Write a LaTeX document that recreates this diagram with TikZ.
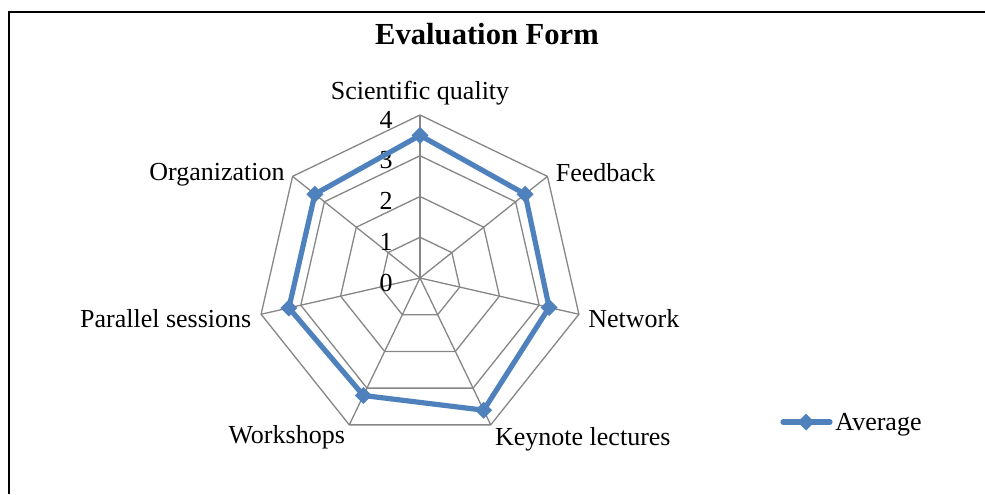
\documentclass[tikz,border=0pt]{standalone}
\usepackage{fontspec}
\setmainfont{Liberation Serif}
\usetikzlibrary{positioning}
\definecolor{avgblue}{HTML}{4F81BD}
\definecolor{webgray}{HTML}{868686}

\begin{document}
\begin{tikzpicture}[x=0.5pt, y=0.5pt,
    webline/.style={draw=webgray, line width=0.65pt},
    avg/.style={draw=avgblue, line width=2.6pt, line join=round},
    diam/.style={fill=avgblue, rotate=45, minimum size=6pt, inner sep=0pt},
    lbl/.style={inner sep=1pt, font=\fontsize{13}{15}\selectfont}]
    \useasboundingbox (0,0) rectangle (985,494);
    \draw [line width=1.3pt] (9,0) -- (9,482) -- (985,482);
    \node [font=\fontsize{15.3}{18}\selectfont\bfseries] (title) at (487,460) {Evaluation Form};

    \begin{scope}[shift={(420,216)}]
        \coordinate (c) at (0,0);
        \foreach \k in {0,...,6} \coordinate (ax\k) at ({90-\k*360/7}:163);
        % web
        \foreach \r in {1,...,4}
            \draw [webline] (90:\r*40.75) \foreach \k in {1,...,6} {-- ({90-\k*360/7}:\r*40.75)} -- cycle;
        \foreach \k in {0,...,6} \draw [webline] (c) -- (ax\k);
        \foreach \r in {0,...,4} \node [lbl, anchor=east] (tick\r) at (-25, {40.75*\r-4.5}) {\r};
        % axis labels
        \node [lbl, above=3.5pt of ax0] (sci) {Scientific quality};
        \node [lbl, right=3pt of ax1, yshift=1.7pt] (feed) {Feedback};
        \node [lbl, right=3.5pt of ax2, yshift=-2.4pt] (net) {Network};
        \node [lbl, below right=0pt and 1pt of ax3] (key) {Keynote lectures};
        \node [lbl, below left=-1pt and 1pt of ax4] (work) {Workshops};
        \node [lbl, left=3.7pt of ax5, yshift=-2.4pt] (par) {Parallel sessions};
        \node [lbl, left=2.8pt of ax6, yshift=0.7pt] (org) {Organization};
        % averages
        \foreach \v [count=\k from 0] in {3.5,3.3,3.25,3.6,3.2,3.3,3.3}
            \coordinate (d\k) at ({90-\k*360/7}:\v*40.75);
        \draw [avg] (d0) -- (d1) -- (d2) -- (d3) -- (d4) -- (d5) -- (d6) -- cycle;
        \foreach \k in {0,...,6} \node [diam] (m\k) at (d\k) {};
    \end{scope}

    % legend
    \coordinate (la) at (783,72);
    \coordinate (lb) at (830,72);
    \draw [avg, line cap=round] (la) -- (lb);
    \node [diam] (lm) at (806,72) {};
    \node [lbl, right=1.5pt of lb, yshift=-1.5pt] (legend) {Average};
\end{tikzpicture}
\end{document}
